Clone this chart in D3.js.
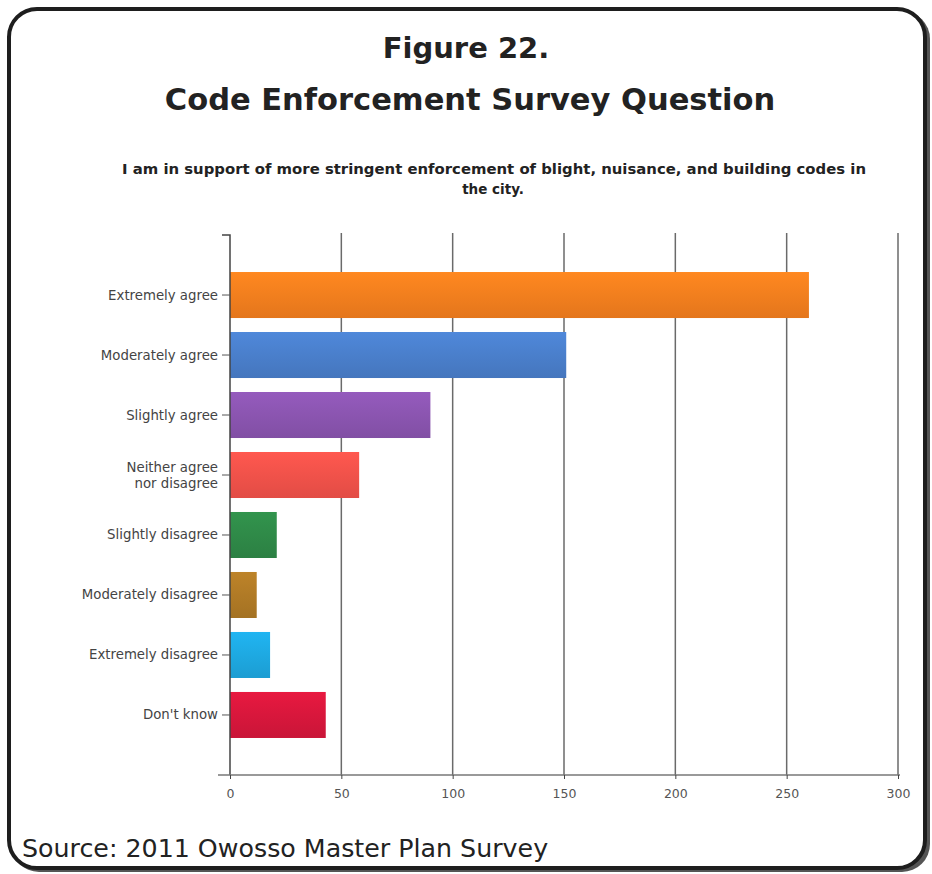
<!DOCTYPE html>
<html><head><meta charset="utf-8">
<script src="https://cdn.jsdelivr.net/npm/d3@7"></script>
<style>html,body{margin:0;padding:0;background:#fff;}svg{display:block;}</style>
</head><body>
<svg id="c" width="932" height="874"></svg>
<script>
const categories = ["Extremely agree","Moderately agree","Slightly agree","Neither agree nor disagree","Slightly disagree","Moderately disagree","Extremely disagree","Don't know"];
const values = [260, 151, 90, 58, 21, 12, 18, 43];
const colors = ["#f57f1e","#4a7fcb","#8b55b0","#f3524a","#2f8a48","#b07a26","#1ea9e1","#d8173c"];
const xTicks = [0, 50, 100, 150, 200, 250, 300];

const svg = d3.select("#c");
// frame with shadow
svg.append("rect").attr("x",11).attr("y",11).attr("width",919).attr("height",861).attr("rx",28).attr("fill","#555");
svg.append("rect").attr("x",9).attr("y",9).attr("width",916).attr("height",859).attr("rx",28)
  .attr("fill","#fff").attr("stroke","#1e1e1e").attr("stroke-width",4);

svg.append("text").attr("x",466).attr("y",58).attr("text-anchor","middle")
  .attr("font-family","DejaVu Sans").attr("font-weight","bold").attr("font-size",29).attr("fill","#222")
  .text("Figure 22.");
svg.append("text").attr("x",470).attr("y",110).attr("text-anchor","middle")
  .attr("font-family","DejaVu Sans").attr("font-weight","bold").attr("font-size",30.5).attr("fill","#222")
  .text("Code Enforcement Survey Question");

svg.append("text").attr("x",122).attr("y",174)
  .attr("font-family","DejaVu Sans").attr("font-weight","bold").attr("font-size",13.5).attr("fill","#222")
  .attr("textLength",744).attr("lengthAdjust","spacingAndGlyphs")
  .text("I am in support of more stringent enforcement of blight, nuisance, and building codes in");
svg.append("text").attr("x",493).attr("y",194).attr("text-anchor","middle")
  .attr("font-family","DejaVu Sans").attr("font-weight","bold").attr("font-size",13.5).attr("fill","#222")
  .text("the city.");

const x = d3.scaleLinear().domain([0,300]).range([230,898]);
const y = d3.scaleBand().domain(categories).range([235,775]).paddingInner(0.233).paddingOuter(0.617);

// grid
svg.append("g").selectAll("line").data(xTicks.slice(1)).join("line")
  .attr("x1",d=>x(d)).attr("x2",d=>x(d)).attr("y1",233).attr("y2",775)
  .attr("stroke","#6a6a6a").attr("stroke-width",1.5);

// gradients
const defs = svg.append("defs");
colors.forEach((c,i)=>{
  const g = defs.append("linearGradient").attr("id","g"+i).attr("x1",0).attr("y1",0).attr("x2",0).attr("y2",1);
  g.append("stop").attr("offset","0%").attr("stop-color",d3.color(c).brighter(0.2));
  g.append("stop").attr("offset","100%").attr("stop-color",d3.color(c).darker(0.2));
});

svg.append("g").selectAll("rect").data(categories).join("rect")
  .attr("x",x(0)).attr("y",d=>y(d)).attr("height",y.bandwidth())
  .attr("width",(d,i)=>x(values[i])-x(0)).attr("fill",(d,i)=>"url(#g"+i+")");

// y axis
const ya = svg.append("g").attr("transform",`translate(${x(0)},0)`)
  .call(d3.axisLeft(y).tickSize(8).tickSizeOuter(0).tickFormat(""));
ya.select(".domain").attr("stroke","#444").attr("stroke-width",1.5).attr("d","M-8,235H0V775");
ya.selectAll(".tick line").attr("stroke","#555");
categories.forEach(c=>{
  const t = svg.append("text").attr("text-anchor","end").attr("font-family","DejaVu Sans")
    .attr("font-size",13.3).attr("fill","#444");
  const cy = y(c)+y.bandwidth()/2;
  if(c==="Neither agree nor disagree"){
    t.append("tspan").attr("x",218).attr("y",cy-3).text("Neither agree");
    t.append("tspan").attr("x",218).attr("y",cy+13).text("nor disagree");
  } else {
    t.attr("x",218).attr("y",cy+4.5).text(c);
  }
});

// x axis
const xa = svg.append("g").attr("transform","translate(0,775)")
  .call(d3.axisBottom(x).tickValues(xTicks).tickSize(4).tickSizeOuter(0));
xa.select(".domain").attr("stroke","#777").attr("stroke-width",1.5).attr("d","M218,0H900");
xa.selectAll(".tick line").attr("stroke","#444");
xa.selectAll(".tick text").attr("font-family","DejaVu Sans").attr("font-size",12.5).attr("fill","#555").attr("dy","1.25em");

svg.append("text").attr("x",22).attr("y",857)
  .attr("font-family","DejaVu Sans").attr("font-size",25.3).attr("fill","#222")
  .text("Source: 2011 Owosso Master Plan Survey");
</script>
</body></html>
